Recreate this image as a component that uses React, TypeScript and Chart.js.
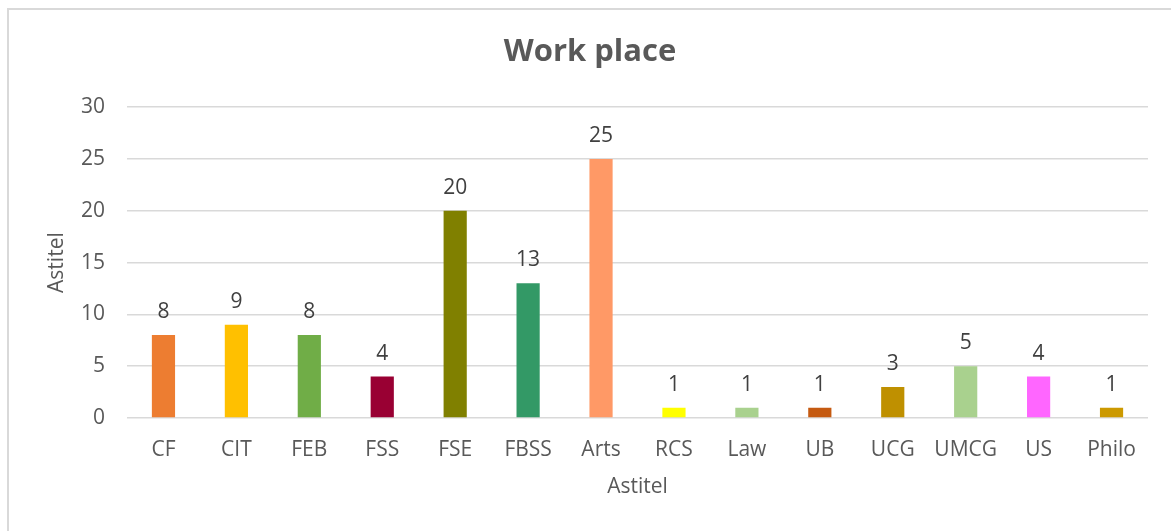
import React, { useEffect, useRef } from "react";
import { Chart, registerables } from "chart.js";

Chart.register(...registerables);

const categories = ["CF", "CIT", "FEB", "FSS", "FSE", "FBSS", "Arts", "RCS", "Law", "UB", "UCG", "UMCG", "US", "Philo"];
const values = [8, 9, 8, 4, 20, 13, 25, 1, 1, 1, 3, 5, 4, 1];
const barColors = [
  "#ED7D31", "#FFC000", "#70AD47", "#990033", "#808000", "#339966", "#FF9966",
  "#FFFF00", "#A9D18E", "#C55A11", "#BF9000", "#A9D18E", "#FF66FF", "#CC9900",
];
const yTicks = [0, 5, 10, 15, 20, 25, 30];
const chartTitle = "Work place";
const xTitle = "Astitel";
const yTitle = "Astitel";

const FONT = "'Open Sans', 'DejaVu Sans', sans-serif";

const dataLabels = {
  id: "dataLabels",
  afterDatasetsDraw(chart: any) {
    const ctx = chart.ctx;
    const meta = chart.getDatasetMeta(0);
    const ds = chart.data.datasets[0];
    ctx.save();
    ctx.font = `21px ${FONT}`;
    ctx.fillStyle = "#404040";
    ctx.textAlign = "center";
    ctx.textBaseline = "alphabetic";
    meta.data.forEach((bar: any, i: number) => {
      ctx.fillText(String(ds.data[i]), bar.x, bar.y - 17);
    });
    ctx.restore();
  },
};

export default function App() {
  const ref = useRef<HTMLCanvasElement>(null);
  useEffect(() => {
    if (!ref.current) return;
    const chart = new Chart(ref.current, {
      type: "bar",
      data: {
        labels: categories,
        datasets: [
          {
            data: values,
            backgroundColor: barColors,
            barPercentage: 1,
            categoryPercentage: 0.318,
          },
        ],
      },
      plugins: [dataLabels],
      options: {
        responsive: false,
        animation: false,
        layout: { padding: 0 },
        plugins: {
          legend: { display: false },
          tooltip: { enabled: false },
          title: {
            display: true,
            text: chartTitle,
            color: "#595959",
            font: { family: FONT, size: 31, weight: "bold", lineHeight: 1.2 },
            padding: { top: 24, bottom: 36 },
          },
        },
        scales: {
          x: {
            grid: { display: false },
            border: { display: false },
            ticks: {
              color: "#595959",
              font: { family: FONT, size: 21 },
              padding: 11,
              maxRotation: 0,
              autoSkip: false,
            },
            title: {
              display: true,
              text: xTitle,
              color: "#595959",
              font: { family: FONT, size: 21, lineHeight: 1.2 },
              padding: { top: 0, bottom: 31 },
            },
            afterFit(scale: any) {
              scale.height = 113;
            },
          },
          y: {
            min: 0,
            max: 30,
            afterBuildTicks(scale: any) {
              scale.ticks = yTicks.map((v) => ({ value: v }));
            },
            grid: { color: "#d9d9d9", lineWidth: 1.5, drawTicks: false },
            border: { display: false },
            ticks: {
              color: "#595959",
              font: { family: FONT, size: 21 },
              padding: 22,
            },
            title: {
              display: true,
              text: yTitle,
              color: "#595959",
              font: { family: FONT, size: 21, lineHeight: 1.2 },
              padding: { top: 35, bottom: 0 },
            },
            afterFit(scale: any) {
              scale.width = 118;
            },
          },
          yRight: {
            position: "right",
            display: true,
            min: 0,
            max: 30,
            grid: { display: false, drawTicks: false },
            border: { display: false },
            ticks: { display: false },
            afterFit(scale: any) {
              scale.width = 23;
            },
          },
        },
      },
    });
    return () => chart.destroy();
  }, []);

  return (
    <div
      style={{
        position: "fixed",
        left: 7,
        top: 8,
        width: 1164,
        height: 523,
        borderLeft: "2px solid #d9d9d9",
        borderTop: "2px solid #d9d9d9",
        background: "#fff",
        overflow: "hidden",
      }}
    >
      <canvas ref={ref} width={1162} height={521} style={{ display: "block" }} />
    </div>
  );
}
